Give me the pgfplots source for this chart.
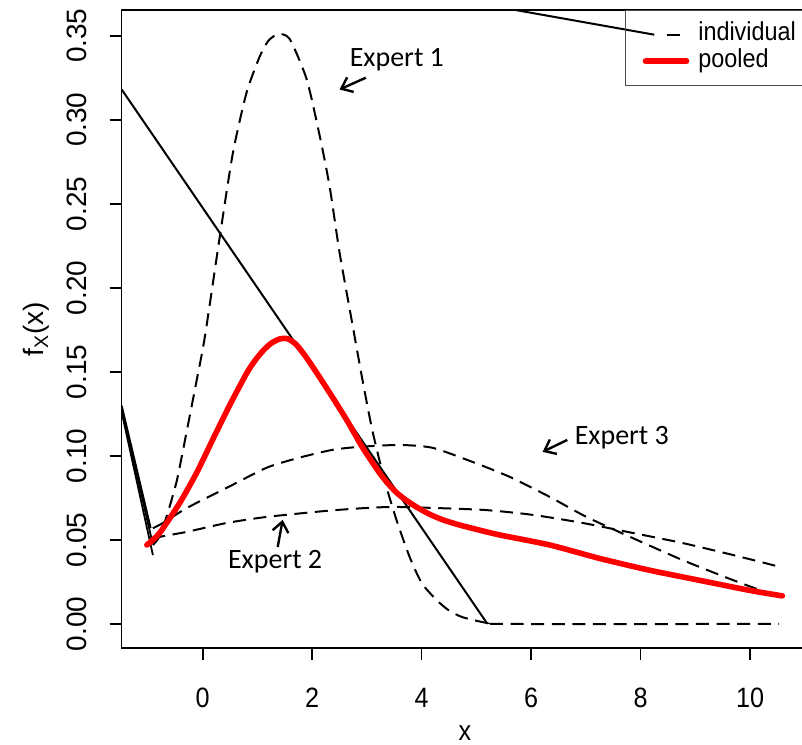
\documentclass[border=0pt]{standalone}
\usepackage{fontspec}
\setmainfont{Liberation Sans}
\newfontfamily\narrowsans[FakeStretch=0.9]{Liberation Sans}
\newfontfamily\carlito{Carlito}
\usepackage{pgfplots}
\usepackage{pgfplotstable}
\pgfplotsset{compat=1.18}
\usetikzlibrary{arrows.meta}

% expert 1 (peaked)
\pgfplotstableread{
x y
-0.91 0.047
-0.79 0.052
-0.64 0.066
-0.47 0.0857
-0.29 0.115
-0.11 0.145
0.04 0.171
0.31 0.230
0.55 0.280
0.80 0.316
1.04 0.3375
1.20 0.347
1.38 0.351
1.59 0.348
1.90 0.324
2.14 0.290
2.32 0.260
2.50 0.221
2.72 0.181
2.92 0.145
3.10 0.115
3.32 0.0857
3.54 0.0619
3.78 0.0399
4.00 0.0244
4.27 0.0143
4.50 0.008
4.75 0.004
5.19 0.0006
5.50 0.0
10.53 0.0
}\expone

% expert 2 (flat)
\pgfplotstableread{
x y
-0.91 0.050
-0.79 0.0518
-0.29 0.0548
0.44 0.0601
1.17 0.0637
2.26 0.0673
2.99 0.0690
3.60 0.0696
5.11 0.0679
6.03 0.0649
6.94 0.0601
7.85 0.0542
8.76 0.0482
9.68 0.0411
10.48 0.0345
}\exptwo

% expert 3 (broad)
\pgfplotstableread{
x y
-0.91 0.057
-0.73 0.060
-0.29 0.069
0.44 0.081
1.17 0.093
1.77 0.099
2.37 0.1036
2.87 0.1054
3.60 0.1065
4.20 0.1048
4.93 0.0964
5.61 0.0875
6.34 0.0756
7.01 0.0637
7.85 0.0512
8.76 0.0381
9.68 0.0262
10.53 0.016
}\expthree

% pooled
\pgfplotstableread{
x y
-1.02 0.047
-0.79 0.054
-0.42 0.072
-0.11 0.090
0.18 0.1095
0.49 0.130
0.80 0.149
0.95 0.1565
1.10 0.1625
1.25 0.1670
1.41 0.1696
1.55 0.1697
1.70 0.1665
1.85 0.1605
2.01 0.153
2.32 0.1375
2.63 0.1214
2.92 0.105
3.23 0.0899
3.40 0.0830
3.54 0.0782
3.70 0.0740
3.91 0.0695
4.15 0.0652
4.40 0.0618
4.70 0.0588
5.00 0.0563
5.42 0.053
6.34 0.047
7.25 0.039
8.16 0.032
9.07 0.026
9.99 0.020
10.59 0.0167
}\pooled

\begin{document}
\begin{tikzpicture}
\begin{axis}[
  at={(0pt,0pt)}, anchor=south west,
  scale only axis, width=343.2pt, height=319pt,
  xmin=-1.48, xmax=11.06, ymin=-0.0143, ymax=0.3653,
  xtick={0,2,4,6,8,10},
  ytick={0,0.05,0.1,0.15,0.2,0.25,0.3,0.35},
  yticklabels={0.00,0.05,0.10,0.15,0.20,0.25,0.30,0.35},
  tick pos=left, tick align=outside, major tick length=6pt,
  tick style={black, line width=0.8pt},
  axis line style={line width=0.8pt},
  /pgf/number format/assume math mode=true,
  xticklabel style={font=\narrowsans\fontsize{14}{16}\selectfont, anchor=base, yshift=-23.5pt},
  yticklabel style={font=\fontsize{14}{16}\selectfont, xshift=-11.4pt, rotate=90, anchor=base},
  xlabel={x}, ylabel={f\textsubscript{X}(x)},
  every axis x label/.style={at={(rel axis cs:0.5,0)}, anchor=base, yshift=-46.3pt,
    font=\narrowsans\fontsize{14}{16}\selectfont},
  every axis y label/.style={at={(rel axis cs:0,0.5)}, xshift=-38.9pt, rotate=90, anchor=base,
    font=\fontsize{14}{16}\selectfont},
  legend style={at={(rel axis cs:0.7334,1)}, anchor=north west, draw=black!70,
    line width=0.6pt, fill=none, inner xsep=8.5pt, inner ysep=6pt,
    row sep=1pt, column sep=4.5pt,
    nodes={inner sep=0pt, text height=9.2pt, text depth=3pt},
    font=\narrowsans\fontsize{13}{15}\selectfont},
  legend cell align=left,
  legend image code/.code={\draw[#1] (0pt,0pt) -- (20.5pt,0pt);},
  dashed curve/.style={black, line width=1pt, dash pattern=on 6.5pt off 3.8pt},
]
\addplot[dashed curve, smooth, tension=0.4, forget plot] table {\expone};
\addplot[dashed curve, smooth, tension=0.4, forget plot] table {\exptwo};
\addplot[dashed curve, smooth, tension=0.4, forget plot] table {\expthree};
% stray solid segments
\addplot[black, line width=1pt, forget plot] coordinates {(-1.48,0.318) (5.19,0.0006)};
\addplot[black, line width=1pt, forget plot] coordinates {(3.0,0.381) (8.25,0.3506)};
\addplot[black, line width=0.9pt, forget plot] coordinates {(-1.48,0.130) (-0.95,0.057)};
\addplot[black, line width=0.9pt, forget plot] coordinates {(-1.48,0.128) (-0.93,0.050)};
\addplot[black, line width=0.9pt, forget plot] coordinates {(-1.48,0.126) (-0.91,0.041)};
\addplot[red, line width=2.8pt, line cap=round, line join=round, smooth, tension=0.4, forget plot] table {\pooled};

\addlegendimage{black, line width=1pt, dash pattern=on 0pt off 10.5pt on 6.5pt off 30pt}
\addlegendentry{individual}
\addlegendimage{red, line width=2.8pt, line cap=round}
\addlegendentry{pooled}

\node[anchor=base west, inner sep=0pt, font=\carlito\fontsize{14}{16}\selectfont] at (axis cs:2.68,0.3315) {Expert 1};
\node[anchor=base west, inner sep=0pt, font=\carlito\fontsize{14}{16}\selectfont] at (axis cs:0.456,0.0333) {Expert 2};
\node[anchor=base west, inner sep=0pt, font=\carlito\fontsize{14}{16}\selectfont] at (axis cs:6.79,0.1065) {Expert 3};
\draw[-{Straight Barb[length=5pt,width=8pt]}, line width=1.2pt] (axis cs:2.98,0.325) -- (axis cs:2.50,0.318);
\draw[-{Straight Barb[length=5pt,width=8pt]}, line width=1.2pt] (axis cs:1.37,0.0458) -- (axis cs:1.46,0.0619);
\draw[-{Straight Barb[length=5pt,width=8pt]}, line width=1.2pt] (axis cs:6.66,0.1095) -- (axis cs:6.21,0.1024);
\end{axis}
\pgfresetboundingbox
\path[use as bounding box] (-60.85pt,-48pt) rectangle (340.15pt,324pt);
\end{tikzpicture}
\end{document}
